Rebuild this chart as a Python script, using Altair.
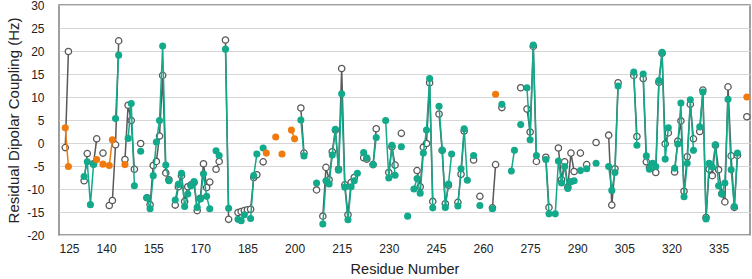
import altair as alt
import pandas as pd

# Residue numbers and RDC values (Hz) for the three data sets
gray_res = [127, 128, 133, 134, 136, 137, 139, 141, 142, 143, 144, 146, 147, 148, 149,
            151, 153, 154, 155, 156, 157, 158, 159, 160, 162, 163, 164, 165, 166, 167,
            168, 169, 170, 171, 172, 173, 175, 176, 178, 179, 182, 183, 184, 185, 186,
            187, 188, 190, 202, 203, 207, 209, 210, 211, 212, 213, 214, 215, 216, 217,
            218, 219, 222, 223, 225, 226, 230, 231, 232, 234, 239, 240, 241, 242, 243,
            244, 246, 247, 248, 249, 252, 253, 254, 257, 259, 263, 264, 266, 272, 274,
            275, 276, 277, 280, 281, 284, 285, 286, 287, 288, 289, 291, 293, 296, 300,
            301, 302, 303, 308, 309, 311, 312, 313, 314, 315, 316, 317, 318, 319, 321,
            322, 323, 324, 325, 326, 327, 329, 330, 331, 332, 333, 334, 335, 336, 337,
            338, 339, 340, 341, 344]
gray_val = [-1.0, 19.9, -8.2, -2.3, -4.5, 0.9, -2.2, -13.6, -12.5, -0.4, 22.2, -3.6, 8.2, 4.9, -5.7,
            -0.1, -11.9, -13.4, -4.9, -4.0, 1.5, 14.7, -6.5, -8.0, -13.5, -9.5, -7.1, -12.7, -9.5, -9.1,
            -8.6, -14.7, -12.0, -4.5, -9.7, -8.5, -5.7, -4.0, 22.4, -16.6, -15.1, -14.9, -14.7, -14.5, -14.4,
            -7.5, -6.9, -4.1, 7.6, -2.2, -10.2, -15.9, -5.3, -8.0, -1.9, 2.8, -5.7, 16.2, -9.1, -15.6,
            -8.6, -7.5, -3.2, -3.5, -4.7, 3.1, -6.4, -0.8, -4.8, 2.1, -6.0, -9.5, -0.9, -0.1, 13.1,
            -12.7, 6.3, -1.6, -13.2, -9.2, -12.9, -6.8, 2.6, -3.7, -11.6, -14.1, -4.7, 7.7, 12.0, 7.4,
            2.4, 21.0, -4.0, -3.1, -14.0, -1.1, -8.0, -4.1, -9.6, -2.2, -6.2, -2.2, -4.7, 0.1, 1.7,
            -13.5, -5.6, 13.1, 14.7, 1.4, 14.0, -4.1, -5.4, -5.2, -6.4, 13.2, 19.5, -0.2, 2.2, -6.3,
            0.4, 4.8, -10.5, -3.0, 8.4, 0.9, 2.5, 11.5, -16.2, -5.7, -7.1, -0.5, -5.8, -11.0, -12.8,
            12.2, -2.8, -14.0, -2.7, 5.7]

teal_res = [133, 134, 135, 136, 143, 144, 147, 148, 149, 151, 153, 154, 155, 156, 157,
            158, 159, 160, 162, 163, 164, 165, 166, 167, 168, 169, 170, 171, 172, 173,
            175, 176, 178, 179, 182, 183, 184, 186, 187, 188, 190, 202, 203, 207, 209,
            210, 211, 212, 213, 214, 215, 216, 217, 218, 219, 220, 222, 223, 225, 226,
            229, 230, 231, 232, 234, 236, 238, 239, 240, 241, 242, 243, 244, 246, 247,
            248, 249, 250, 252, 253, 254, 255, 257, 259, 263, 266, 269, 270, 272, 274,
            275, 276, 277, 280, 281, 283, 284, 285, 286, 287, 288, 289, 291, 293, 296,
            300, 301, 302, 303, 308, 309, 311, 312, 313, 314, 315, 316, 317, 318, 319,
            321, 322, 323, 324, 325, 326, 327, 329, 330, 331, 332, 333, 334, 335, 336,
            337, 338, 339, 340, 341]
teal_val = [-7.3, -4.1, -13.4, -4.7, 5.3, 19.1, 1.0, 8.6, -9.3, -1.8, -11.9, -14.3, -7.1, 0.2, 4.9,
            21.1, -4.8, -8.2, -12.4, -9.0, -6.6, -13.8, -11.1, -9.3, -8.4, -14.0, -12.2, -6.7, -11.6, -14.3,
            -1.7, -2.7, 20.4, -14.2, -16.6, -16.9, -15.6, -16.4, -7.1, -2.4, -1.1, 5.0, -2.8, -8.7, -17.6,
            -8.2, -8.9, -2.6, 3.0, -5.9, 10.7, -9.6, -16.7, -9.5, -8.2, -6.6, -2.1, -3.2, -4.7, 1.2,
            4.9, -7.6, -0.5, -7.0, -0.8, -15.9, -10.0, -7.7, -10.9, -2.2, 2.8, 14.0, -14.1, 8.0, -1.6,
            -14.0, -8.9, -2.4, -13.7, -5.6, 3.1, -8.1, -2.7, -13.6, -14.3, 8.4, -6.1, -1.6, 4.0, 12.0,
            0.7, 21.3, -2.7, -3.6, -15.4, -15.4, -3.9, -8.7, -5.1, -9.9, -8.4, -8.2, -6.0, -5.6, -4.4,
            -5.1, -10.3, -6.4, 12.4, 15.4, -0.5, 15.0, -2.8, -5.7, -4.4, -5.1, 13.6, 19.7, -3.5, 3.3,
            -5.5, -0.2, 8.7, -11.7, -4.4, 9.4, -1.6, 3.5, 11.1, -16.5, -4.4, -5.2, -0.4, -9.3, -11.1,
            -8.7, 9.5, -5.8, -13.8, -2.2]

orange_res = [127, 128, 137, 139, 141, 142, 146, 191, 194, 196, 199, 200, 264, 344]
orange_val = [3.3, -5.1, -3.6, -4.6, -4.9, 0.7, -4.7, -2.2, 1.3, -2.4, 2.8, 0.9, 10.6, 10.0]

x_ticks = list(range(125, 336, 15))
y_ticks = list(range(-20, 31, 5))

GRAY = "#595959"
TEAL = "#13A98B"
ORANGE = "#F07A0E"
FONT = "Liberation Sans"


def series_frame(name, res, val):
    df = pd.DataFrame({"residue": res, "rdc": val})
    df["series"] = name
    # break the line wherever residues are not consecutive
    breaks = df["residue"].diff().fillna(1).ne(1).cumsum()
    df["seg"] = name + breaks.astype(str)
    return df


gray_df = series_frame("gray", gray_res, gray_val)
teal_df = series_frame("teal", teal_res, teal_val)
orange_df = series_frame("orange", orange_res, orange_val)

x_enc = alt.X(
    "residue:Q",
    scale=alt.Scale(domain=[125, 345], nice=False, zero=False),
    axis=alt.Axis(
        values=x_ticks, grid=False, domain=False, ticks=False,
        labelFont=FONT, labelFontSize=12, labelColor="#222222", labelPadding=8,
        title="Residue Number", titleFont=FONT, titleFontSize=14.5,
        titleFontWeight="normal", titleColor="#222222", titlePadding=8,
    ),
)
y_enc = alt.Y(
    "rdc:Q",
    scale=alt.Scale(domain=[-20, 30], nice=False, zero=False),
    axis=alt.Axis(
        values=y_ticks, grid=True, gridColor="#d6d6d6", gridWidth=1,
        domain=False, ticks=False,
        labelFont=FONT, labelFontSize=12, labelColor="#222222", labelPadding=15,
        labelExpr="datum.value < 0 ? '-' + abs(datum.value) : '' + datum.value",
        title="Residual Dipolar Coupling (Hz)", titleFont=FONT, titleFontSize=15,
        titleFontWeight="normal", titleColor="#222222", titlePadding=5,
    ),
)


def line_layer(df, color):
    return alt.Chart(df).mark_line(color=color, strokeWidth=1.5).encode(
        x=x_enc, y=y_enc, detail="seg:N", order="residue:Q"
    )


gray_line = line_layer(gray_df, GRAY)
gray_pts = alt.Chart(gray_df).mark_point(
    shape="circle", filled=True, fill="white", stroke=GRAY,
    strokeWidth=1.3, size=40, opacity=1,
).encode(x=x_enc, y=y_enc)

teal_line = line_layer(teal_df, TEAL)
teal_pts = alt.Chart(teal_df).mark_circle(color=TEAL, size=50, opacity=1).encode(
    x=x_enc, y=y_enc
)

orange_line = line_layer(orange_df, ORANGE)
orange_pts = alt.Chart(orange_df).mark_circle(color=ORANGE, size=50, opacity=1).encode(
    x=x_enc, y=y_enc
)

chart = (
    alt.layer(gray_line, gray_pts, teal_line, teal_pts, orange_line, orange_pts)
    .properties(
        width=691,
        height=230,
        autosize=alt.AutoSizeParams(type="none"),
        padding={"left": 59, "top": 5, "right": 2, "bottom": 44},
        background="white",
    )
    .configure_view(stroke="#7f7f7f", strokeWidth=1.5)
)

chart.save("out.html", embed_options={"renderer": "svg", "actions": False})
